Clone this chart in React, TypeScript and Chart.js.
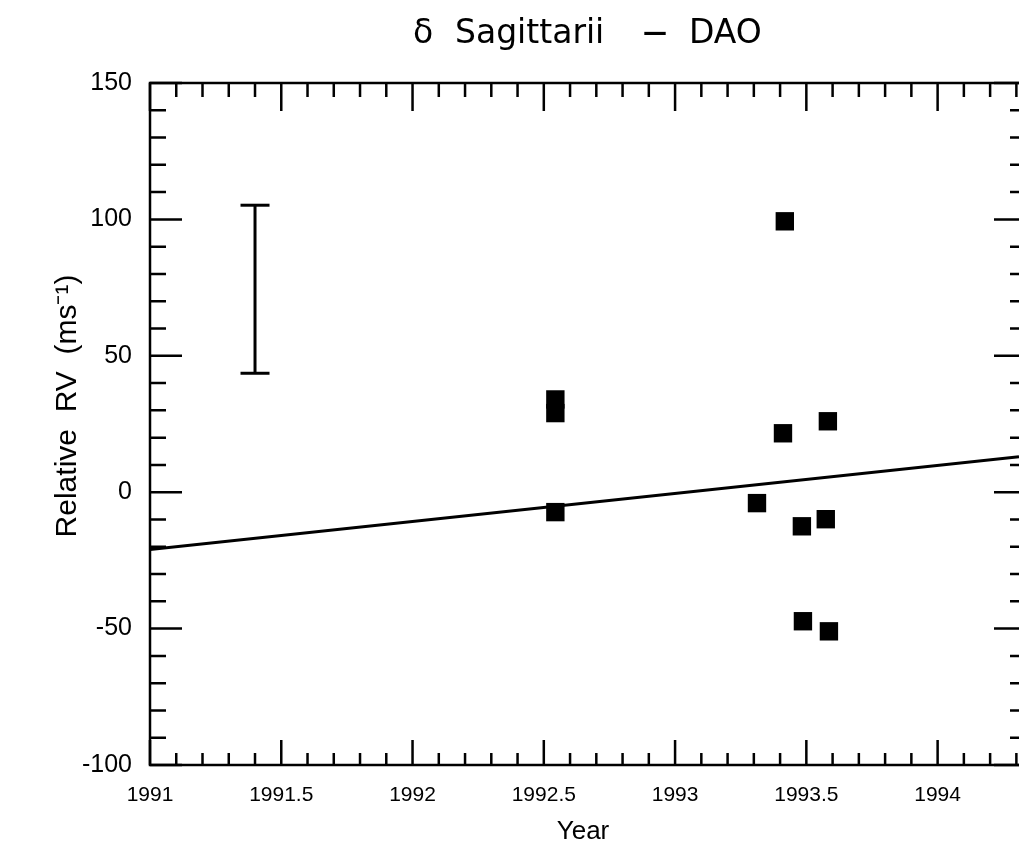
import { useEffect, useRef } from 'react';
import { Chart, registerables } from 'chart.js';

Chart.register(...registerables);

const titleParts = ['δ', 'Sagittarii', '—', 'DAO'];
const xAxisTitle = 'Year';
const yAxisTitle = 'Relative  RV  (ms⁻¹)';

const obsYears = [1992.544, 1992.544, 1992.544, 1993.312, 1993.411, 1993.418, 1993.483, 1993.487, 1993.574, 1993.582, 1993.586];
const obsRV = [34, 29, -7.3, -4, 21.6, 99.3, -12.5, -47.3, -9.9, 26, -51];

const fitYears = [1991, 1994.31];
const fitRV = [-21, 13];

const errYears = [1991.4, 1991.4];
const errRV = [43.6, 105.2];

const xTicks = [1991, 1991.5, 1992, 1992.5, 1993, 1993.5, 1994];
const yTicks = [-100, -50, 0, 50, 100, 150];

const xMin = 1991;
const xMax = 1994.31;
const yMin = -100;
const yMax = 150;

const framePlugin = {
  id: 'frame',
  afterDraw(chart: any) {
    const { ctx, chartArea: a, scales } = chart;
    const x = scales.x;
    const y = scales.y;
    const right = a.right + 2;
    ctx.save();
    ctx.strokeStyle = '#000';
    ctx.lineCap = 'butt';
    ctx.lineWidth = 2.5;
    ctx.strokeRect(a.left, a.top, right - a.left, a.bottom - a.top);
    ctx.lineWidth = 2.5;
    ctx.beginPath();
    for (let i = 0; i <= 25; i++) {
      const v = yMin + i * 10;
      const py = y.getPixelForValue(v);
      const major = i % 5 === 0;
      ctx.moveTo(a.left, py);
      ctx.lineTo(a.left + (major ? 32 : 16), py);
      ctx.moveTo(right, py);
      ctx.lineTo(right - (major ? 27 : 11), py);
    }
    for (let i = 0; i <= 33; i++) {
      const v = xMin + i / 10;
      const px = x.getPixelForValue(v);
      const major = i % 5 === 0;
      ctx.moveTo(px, a.bottom);
      ctx.lineTo(px, a.bottom - (major ? 25 : 12));
      ctx.moveTo(px, a.top);
      ctx.lineTo(px, a.top + (major ? 28 : 14));
    }
    ctx.stroke();

    // titles
    ctx.fillStyle = '#000';
    ctx.textBaseline = 'alphabetic';
    ctx.textAlign = 'left';
    ctx.font = '33px "DejaVu Sans"';
    ctx.fillText(titleParts[0], 413, 43);
    ctx.fillText(titleParts[1], 455, 43);
    ctx.fillText(titleParts[3], 689, 43);
    ctx.font = 'bold 24px "DejaVu Sans"';
    ctx.fillText(titleParts[2], 643, 40);

    ctx.font = '26px "Liberation Sans", Arial, sans-serif';
    ctx.textAlign = 'center';
    ctx.textBaseline = 'middle';
    ctx.fillText(xAxisTitle, 583, 832);

    ctx.font = '30px "Liberation Sans", Arial, sans-serif';
    ctx.translate(68, 406);
    ctx.rotate(-Math.PI / 2);
    ctx.fillText(yAxisTitle, 0, 0);
    ctx.restore();
  },
};

const whiteBg = {
  id: 'whiteBg',
  beforeDraw(chart: any) {
    const { ctx, width, height } = chart;
    ctx.save();
    ctx.fillStyle = '#fff';
    ctx.fillRect(0, 0, width, height);
    ctx.restore();
  },
};

export default function App() {
  const ref = useRef<HTMLCanvasElement>(null);
  useEffect(() => {
    if (!ref.current) return;
    const chart = new Chart(ref.current, {
      type: 'scatter',
      data: {
        datasets: [
          {
            label: 'fit',
            data: fitYears.map((v, i) => ({ x: v, y: fitRV[i] })),
            showLine: true,
            borderColor: '#000',
            borderWidth: 3,
            pointRadius: 0,
          },
          {
            label: 'error',
            data: errYears.map((v, i) => ({ x: v, y: errRV[i] })),
            showLine: true,
            borderColor: '#000',
            borderWidth: 3,
            pointStyle: 'line',
            pointRadius: 14.5,
            pointBorderWidth: 3,
            pointBorderColor: '#000',
          },
          {
            label: 'obs',
            data: obsYears.map((v, i) => ({ x: v, y: obsRV[i] })),
            pointStyle: 'rect',
            pointRadius: 13,
            backgroundColor: '#000',
            borderColor: '#000',
            borderWidth: 0,
          },
        ],
      },
      options: {
        animation: false,
        responsive: false,
        layout: { autoPadding: false, padding: { top: 83, left: 0, right: 0, bottom: 0 } },
        plugins: { legend: { display: false }, tooltip: { enabled: false }, title: { display: false } },
        scales: {
          x: {
            type: 'linear',
            min: xMin,
            max: xMax,
            grid: { display: false },
            border: { display: false },
            afterBuildTicks: (s: any) => {
              s.ticks = xTicks.map((v) => ({ value: v }));
            },
            afterFit: (s: any) => {
              s.height = 85;
              s.paddingLeft = 0;
              s.paddingRight = 0;
            },
            ticks: {
              padding: 10,
              color: '#000',
              font: { family: '"Liberation Sans", Arial, sans-serif', size: 21 },
              maxRotation: 0,
              autoSkip: false,
              callback: (v: any) => String(v),
            },
          },
          y: {
            type: 'linear',
            min: yMin,
            max: yMax,
            grid: { display: false },
            border: { display: false },
            afterBuildTicks: (s: any) => {
              s.ticks = yTicks.map((v) => ({ value: v }));
            },
            afterFit: (s: any) => {
              s.width = 150;
              s.paddingTop = 0;
              s.paddingBottom = 0;
            },
            ticks: {
              padding: 10,
              color: '#000',
              font: { family: '"Liberation Sans", Arial, sans-serif', size: 25 },
              autoSkip: false,
              callback: (v: any) => String(v),
            },
          },
        },
      },
      plugins: [whiteBg, framePlugin],
    });
    return () => chart.destroy();
  }, []);
  return (
    <div style={{ position: 'absolute', left: 0, top: 0, width: 1019, height: 850 }}>
      <canvas ref={ref} width={1019} height={850} />
    </div>
  );
}
